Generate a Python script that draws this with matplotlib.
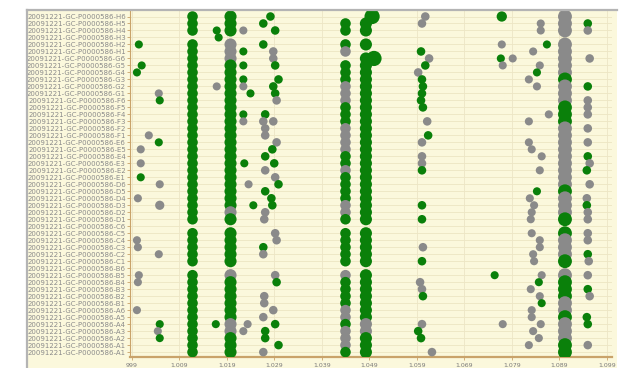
import matplotlib

matplotlib.use("Agg")
import matplotlib.pyplot as plt
from matplotlib.lines import Line2D
from matplotlib.patches import Rectangle
from matplotlib.ticker import FuncFormatter
import numpy as np

PREFIX = "20091221-GC-P0000586-"
WELLS = [
    "H6", "H5", "H4", "H3", "H2", "H1",
    "G6", "G5", "G4", "G3", "G2", "G1",
    "F6", "F5", "F4", "F3", "F2", "F1",
    "E6", "E5", "E4", "E3", "E2", "E1",
    "D6", "D5", "D4", "D3", "D2", "D1",
    "C6", "C5", "C4", "C3", "C2", "C1",
    "B6", "B5", "B4", "B3", "B2", "B1",
    "A6", "A5", "A4", "A3", "A2", "A1",
    "A1",
]
X_TICKS = [999, 1009, 1019, 1029, 1039, 1049, 1059, 1069, 1079, 1089, 1099]

# strong peaks seen in (nearly) every sample, one char per sample from top
# G = identified, Y = not identified, . = missing
DENSE_MZ = [1011.8, 1019.8, 1044.0, 1048.3, 1090.2]
DENSE_INT = [58, 76, 58, 76, 100]
DENSE_CALLS = [
    "GGG.GG GGGGGG GGGGGG GGGGGG GGGGGG .GGGGG .GGGGG GGGGGG G",
    "GGG.YY YGGGGG GGGGGG GGGGGG GGGGYG .GGGGG .YGGGG GGYYGG G",
    ".GG.GY .GGGYY YGGGYY YYGGYG GGGYYG .GGGGG .YGGGG YYGYYY G",
    ".GG.G. GGGGGG GGGGGG GGGGGG GGGGGG .GGGGG .GGGGG GGYYGG G",
    "YYY.YY YYYGYY YGGGYY YYYYYY YGYYYG .GYYYG .YGGGY YGYYYG G",
]

# sporadic peaks: sample row, m/z, call, intensity
SC_ROW = [
    4, 7, 8, 17, 19, 21, 23, 26, 32, 33, 37, 38, 42,
    11, 12, 18, 24, 27, 34, 44, 45, 46,
    2, 3, 10, 44,
    2, 5, 7, 9, 10, 11, 14, 15, 21, 24, 27, 44, 45,
    0, 1, 2, 4, 5, 6, 7, 9, 10, 11, 12, 14, 15, 15, 16, 17, 18, 19, 20, 21,
    22, 23, 24, 25, 26, 27, 28, 29, 31, 32, 33, 34, 37, 38, 40, 41, 42, 43,
    44, 45, 46, 47, 48,
    0, 6,
    0, 1, 5, 6, 7, 8, 9, 10, 11, 12, 13, 15, 17, 18, 20, 21, 22, 27, 29, 33,
    35, 38, 39, 40, 44, 45, 46, 48,
    0, 4, 6, 6, 7, 37, 44,
    1, 2, 4, 5, 7, 8, 9, 10, 14, 15, 18, 19, 20, 22, 25, 26, 27, 28, 29, 31,
    32, 33, 34, 35, 37, 38, 39, 40, 41, 42, 43, 44, 45, 46, 47,
    1, 2, 6, 10, 12, 13, 14, 16, 18, 20, 21, 22, 24, 26, 27, 28, 29, 31, 32,
    34, 35, 37, 39, 40, 43, 44, 47,
]
SC_MZ = [
    1000.5, 1001.1, 1000.1, 1002.6, 1000.9, 1000.9, 1000.9, 1000.3, 1000.1,
    1000.3, 1000.5, 1000.3, 1000.1,
    1004.7, 1004.9, 1004.7, 1004.9, 1004.9, 1004.7, 1004.9, 1004.5, 1004.9,
    1016.9, 1017.3, 1016.9, 1016.7,
    1022.5, 1022.5, 1022.5, 1022.5, 1022.5, 1024.0, 1022.5, 1022.5, 1022.7,
    1023.6, 1024.6, 1023.4, 1022.5,
    1028.2, 1026.7, 1029.2, 1026.7, 1028.8, 1028.8, 1029.2, 1029.9, 1028.8,
    1029.2, 1029.5, 1027.1, 1028.8, 1026.7, 1027.1, 1027.1, 1029.5, 1028.6,
    1027.1, 1029.0,
    1027.1, 1029.2, 1029.9, 1027.1, 1028.4, 1028.6, 1027.1, 1026.9, 1029.2,
    1029.5, 1026.7, 1026.7, 1029.2, 1029.5, 1026.9, 1026.9, 1028.8, 1026.7,
    1029.2, 1027.1, 1027.1, 1029.9, 1026.7,
    1049.6, 1050.0,
    1060.8, 1060.1, 1059.9, 1061.6, 1060.8, 1059.3, 1060.1, 1060.3, 1060.1,
    1059.9, 1060.3, 1061.2, 1061.4, 1060.1, 1060.1, 1060.1, 1060.1, 1060.1,
    1060.1, 1060.3, 1060.1, 1059.7, 1060.1, 1060.3, 1060.1, 1059.3, 1059.9,
    1062.2,
    1076.9, 1076.9, 1076.7, 1079.2, 1077.1, 1075.4, 1077.1,
    1085.1, 1085.1, 1086.4, 1083.5, 1084.9, 1084.3, 1082.6, 1084.3, 1086.8,
    1082.6, 1082.6, 1083.2, 1085.3, 1084.9, 1084.3, 1082.8, 1083.7, 1083.2,
    1083.0, 1083.2, 1084.9, 1084.9, 1083.5, 1083.7, 1085.3, 1084.7, 1083.0,
    1084.9, 1085.3, 1083.2, 1083.2, 1085.1, 1083.5, 1084.7, 1082.6,
    1095.0, 1095.0, 1095.4, 1095.0, 1095.0, 1095.0, 1095.0, 1095.0, 1095.0,
    1095.0, 1095.4, 1094.8, 1095.4, 1094.8, 1094.8, 1095.0, 1095.0, 1095.0,
    1095.0, 1095.0, 1095.2, 1095.0, 1095.0, 1095.4, 1094.8, 1095.0, 1095.0,
]
SC_CALL = (
    "GGGYYYGYYYYYY"
    "YGGYYYGYG"
    "GGYG"
    "YGGGYGGYGYGYY"
    "GGGGYYGGGGYGYYYYYGGG"
    "YYGGGGYYYYGYYGYYYY"
    "GGGGY"
    "GG"
    "YYGYGYGGGGGYGYYYGGGYGYYGYGGY"
    "GYGYYGY"
    "YYGYYGYYYYYYYYGYYYYYYYYYYGYYGYYYYYY"
    "GYYGYYYYYGYGYYGYYYYGYYGYGGY"
)
SC_INT = (
    [34] * 13
    + [34, 34, 34, 34, 44, 34, 34, 34, 34]
    + [34] * 4
    + [34] * 13
    + [38] * 43
    + [120, 120]
    + [38] * 28
    + [55, 34, 34, 34, 34, 34, 34]
    + [34] * 35
    + [38] * 27
)

BG = "#fbf8dc"
GREEN = "#0a800a"
GRAY = "#8a8a8a"
TAN = "#c9a36a"


def call_colors(calls):
    return [GREEN if c == "G" else GRAY for c in calls]


fig = plt.figure(figsize=(6.21, 3.68), dpi=100)
fig.patch.set_facecolor("white")

W, H = 621.0, 368.0
fig.patches.append(
    Rectangle((27 / W, 0), (617 - 27) / W, 1 - 10 / H, transform=fig.transFigure,
              facecolor=BG, edgecolor="none", zorder=-10)
)
fig.lines.append(Line2D([27 / W, 617 / W], [1 - 10 / H] * 2, transform=fig.transFigure,
                        color="#b4b4b4", lw=1.6))
fig.lines.append(Line2D([27 / W] * 2, [0, 1 - 10 / H], transform=fig.transFigure,
                        color="#b4b4b4", lw=1.6))

ax = fig.add_axes([130 / W, 11 / H, (612 - 130) / W, (357 - 10) / H])
ax.set_facecolor(BG)

n = len(WELLS)
for r in range(n):
    ax.axhline(r, color="#ece5c2", lw=0.6, zorder=0)
for t in X_TICKS:
    ax.axvline(t, color="#ece5c6", lw=0.6, zorder=0)

for mz, inten, calls in zip(DENSE_MZ, DENSE_INT, DENSE_CALLS):
    calls = calls.replace(" ", "")
    rows = [i for i, c in enumerate(calls) if c != "."]
    cc = [calls[i] for i in rows]
    ax.scatter(np.full(len(rows), mz), rows, s=inten, c=call_colors(cc),
               edgecolors="none", zorder=3)

ax.scatter(SC_MZ, SC_ROW, s=SC_INT, c=call_colors(SC_CALL), edgecolors="none", zorder=4)

ax.set_xlim(998.64, 1100.1)
ax.set_ylim(n - 0.3, -0.93)
ax.set_yticks(range(n))
ax.set_yticklabels([PREFIX + w for w in WELLS])
ax.set_xticks(X_TICKS)
ax.xaxis.set_major_formatter(FuncFormatter(lambda v, p: f"{int(v):,}".replace(",", ".")))
ax.tick_params(axis="y", labelsize=5, labelcolor="#8a8a8a", length=2, width=0.6,
               color=TAN, pad=1)
ax.tick_params(axis="x", labelsize=4.5, labelcolor="#7a7a7a", length=2, width=0.6,
               color=TAN, pad=2)

for s in ("top", "right"):
    ax.spines[s].set_visible(False)
ax.spines["left"].set_color(TAN)
ax.spines["left"].set_linewidth(0.8)
ax.spines["bottom"].set_color(TAN)
ax.spines["bottom"].set_linewidth(1.6)

fig.savefig("out.png", dpi=100)
plt.close(fig)
